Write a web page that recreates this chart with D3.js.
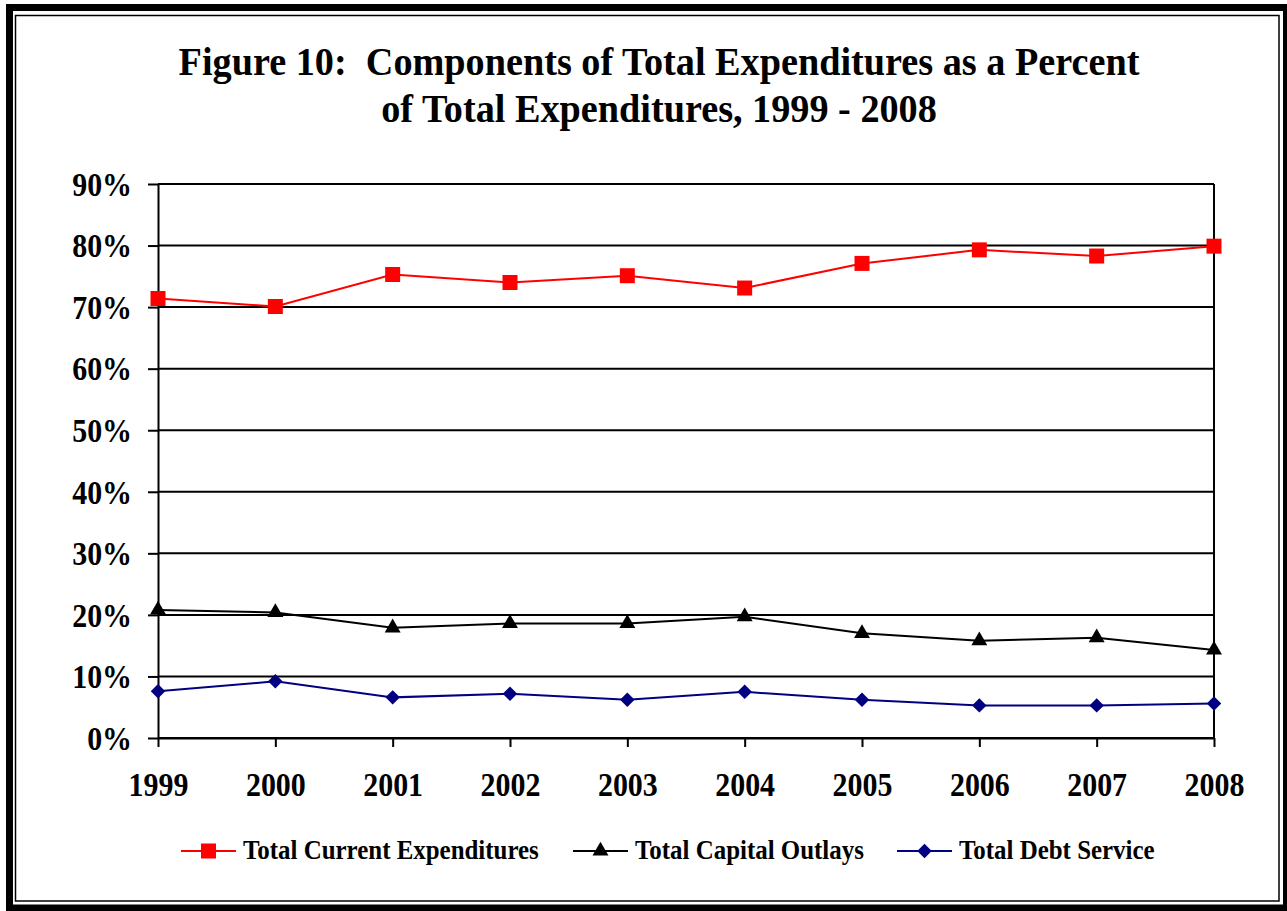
<!DOCTYPE html>
<html>
<head>
<meta charset="utf-8">
<script src="https://cdn.jsdelivr.net/npm/d3@7"></script>
<style>
  body { margin: 0; background: #fff; }
  text { font-family: "Liberation Serif", "Times New Roman", serif; font-weight: bold; }
</style>
</head>
<body>
<div id="chart"></div>
<script>
// data
var years = ["1999", "2000", "2001", "2002", "2003", "2004", "2005", "2006", "2007", "2008"];
var currentExp = [0.714, 0.701, 0.753, 0.740, 0.751, 0.731, 0.771, 0.793, 0.783, 0.799];
var capitalOutlays = [0.208, 0.204, 0.179, 0.186, 0.186, 0.197, 0.170, 0.158, 0.163, 0.143];
var debtService = [0.076, 0.092, 0.066, 0.072, 0.062, 0.075, 0.062, 0.053, 0.053, 0.056];
var yTicks = [0, 0.1, 0.2, 0.3, 0.4, 0.5, 0.6, 0.7, 0.8, 0.9];
var seriesNames = ["Total Current Expenditures", "Total Capital Outlays", "Total Debt Service"];

var svgWidth = 1287;
var svgHeight = 911;
var sx = 0.88; // the original text is a bit squeezed sideways

var svg = d3.select("#chart")
  .append("svg")
  .attr("width", svgWidth)
  .attr("height", svgHeight);

// double frame
svg.append("rect")
  .attr("x", 9.5).attr("y", 7.5)
  .attr("width", 1277).attr("height", 900.5)
  .attr("fill", "none").attr("stroke", "#000").attr("stroke-width", 7);
svg.append("rect")
  .attr("x", 15.5).attr("y", 15.5)
  .attr("width", 1263.5).attr("height", 885.5)
  .attr("fill", "none").attr("stroke", "#000").attr("stroke-width", 1.5);

// squeezed text helper
function addText(x, y, str, size, anchor, scaleX) {
  return svg.append("text")
    .attr("transform", `translate(${x}, ${y}) scale(${scaleX || sx}, 1)`)
    .attr("text-anchor", anchor || "middle")
    .attr("font-size", size)
    .text(str);
}

addText(659, 75, "Figure 10:  Components of Total Expenditures as a Percent", 39, "middle", 0.98)
  .style("white-space", "pre");
addText(659, 122, "of Total Expenditures, 1999 - 2008", 39, "middle", 0.98);

var plotLeft = 158, plotRight = 1214, plotTop = 184, plotBottom = 738;

var x = d3.scalePoint().domain(years).range([plotLeft, plotRight]);
var y = d3.scaleLinear().domain([0, 0.9]).range([plotBottom, plotTop]);

// gridlines
svg.append("g")
  .selectAll("line")
  .data(yTicks)
  .enter()
  .append("line")
  .attr("x1", plotLeft).attr("x2", plotRight)
  .attr("y1", d => y(d)).attr("y2", d => y(d))
  .attr("stroke", "#000").attr("stroke-width", 2);

// right edge of plot area
svg.append("line")
  .attr("x1", plotRight).attr("x2", plotRight)
  .attr("y1", plotTop).attr("y2", plotBottom)
  .attr("stroke", "#000").attr("stroke-width", 2);

var leftAxis = d3.axisLeft(y)
  .tickValues(yTicks)
  .tickSize(10)
  .tickSizeOuter(0)
  .tickFormat(d3.format(".0%"));

var yAxisG = svg.append("g")
  .attr("transform", `translate(${plotLeft}, 0)`)
  .call(leftAxis);
yAxisG.selectAll("path, line").attr("stroke", "#000").attr("stroke-width", 2);
yAxisG.selectAll("text")
  .attr("font-size", 34)
  .attr("font-family", null)
  .attr("fill", "#000")
  .attr("x", -26 / sx)
  .attr("dy", "0.33em")
  .attr("transform", `scale(${sx}, 1)`);

var bottomAxis = d3.axisBottom(x).tickSize(9).tickSizeOuter(0);
var xAxisG = svg.append("g")
  .attr("transform", `translate(0, ${plotBottom})`)
  .call(bottomAxis);
xAxisG.selectAll("path, line").attr("stroke", "#000").attr("stroke-width", 2);
xAxisG.selectAll("text")
  .attr("font-size", 34)
  .attr("font-family", null)
  .attr("fill", "#000")
  .attr("x", 0)
  .attr("y", 58)
  .attr("dy", 0)
  .attr("transform", `scale(${sx}, 1)`);

var line = d3.line()
  .x((d, i) => x(years[i]))
  .y(d => y(d));

var series = [
  { name: seriesNames[0], values: currentExp, color: "#ff0000", symbol: d3.symbolSquare, size: 225, rot: 0 },
  { name: seriesNames[1], values: capitalOutlays, color: "#000000", symbol: d3.symbolTriangle, size: 110, rot: 0 },
  { name: seriesNames[2], values: debtService, color: "#000080", symbol: d3.symbolSquare, size: 105, rot: 45 }
];

series.forEach(function(s) {
  svg.append("path")
    .datum(s.values)
    .attr("d", line)
    .attr("fill", "none")
    .attr("stroke", s.color)
    .attr("stroke-width", 2);

  svg.append("g")
    .selectAll("path")
    .data(s.values)
    .enter()
    .append("path")
    .attr("d", d3.symbol().type(s.symbol).size(s.size))
    .attr("transform", (d, i) => `translate(${x(years[i])}, ${y(d)}) rotate(${s.rot})`)
    .attr("fill", s.color);
});

// legend
var legendX = [181, 573, 897];
var legendY = 851;
series.forEach(function(s, i) {
  var lx = legendX[i];
  svg.append("line")
    .attr("x1", lx).attr("x2", lx + 55)
    .attr("y1", legendY).attr("y2", legendY)
    .attr("stroke", s.color).attr("stroke-width", 2);
  svg.append("path")
    .attr("d", d3.symbol().type(s.symbol).size(s.size))
    .attr("transform", `translate(${lx + 27.5}, ${legendY}) rotate(${s.rot})`)
    .attr("fill", s.color);
  addText(lx + 62, 859, s.name, 28, "start", 0.89);
});
</script>
</body>
</html>
